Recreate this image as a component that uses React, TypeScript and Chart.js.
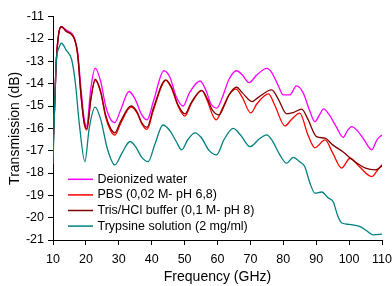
import React, { useEffect, useRef } from "react";
import { Chart, registerables } from "chart.js";

Chart.register(...registerables);

// ---- data ----
const seriesLabels = [
  "Deionized water",
  "PBS (0,02 M- pH 6,8)",
  "Tris/HCl buffer (0,1 M- pH 8)",
  "Trypsine solution (2 mg/ml)",
];
const seriesColors = ["#ff00ff", "#ff0000", "#800000", "#008080"];

const xTickValues = [10, 20, 30, 40, 50, 60, 70, 80, 90, 100, 110];
const yTickValues = [-11, -12, -13, -14, -15, -16, -17, -18, -19, -20, -21];

const waterFreq = [10, 10.5, 11, 11.7, 12.5, 14, 16.5, 17.5, 18.5, 19.5, 20.2, 21.5, 22.8, 24.5, 26, 27.5, 28.8, 30.5, 33.1, 35, 37, 38.6, 40.5, 43.7, 45.5, 47.5, 49.5, 51.5, 54.7, 56.5, 58, 59.8, 61.5, 63.5, 65.8, 67.5, 69.6, 72, 75, 76.5, 78.5, 80, 82, 84, 86, 88, 89.6, 91, 92.2, 94, 96, 98.2, 99.5, 100.8, 102.5, 104.5, 106.9, 108.5, 110];
const waterDb = [-16.6, -15, -13, -11.8, -11.45, -11.6, -11.95, -12.6, -14.2, -15.6, -15.9, -14.2, -13.3, -13.9, -15.0, -15.6, -15.74, -15.2, -14.35, -14.7, -15.4, -15.62, -14.8, -13.42, -13.7, -14.6, -15.0, -14.4, -13.88, -14.3, -14.9, -15.09, -14.6, -13.8, -13.42, -13.6, -13.95, -13.6, -13.31, -13.5, -14.1, -14.5, -14.5, -14.1, -14.4, -15.2, -15.7, -15.4, -15.13, -15.4, -15.9, -16.4, -16.1, -15.92, -16.1, -16.5, -16.96, -16.5, -16.3];

const pbsFreq = [10, 10.5, 11, 11.7, 12.5, 14, 16.5, 17.5, 18.5, 19.5, 20.3, 21.5, 22.8, 24.5, 26, 27.5, 28.8, 30.5, 33.7, 35.5, 37, 38.6, 40.5, 44.3, 46, 48, 50.1, 52, 55.2, 57, 58.5, 59.6, 61.5, 63.5, 65.6, 67.5, 70.1, 72, 75.5, 77.5, 80.5, 82.5, 85, 87.5, 89.6, 92.7, 95, 97.7, 100.3, 103, 106.9, 108.5, 110];
const pbsDb = [-16.9, -15, -13, -11.8, -11.45, -11.65, -12.0, -12.7, -14.5, -15.8, -16.07, -14.7, -13.85, -14.4, -15.5, -16.1, -16.3, -15.8, -15.05, -15.3, -15.8, -16.05, -15.2, -13.85, -14.2, -15.0, -15.45, -14.9, -14.31, -14.8, -15.4, -15.62, -15.1, -14.5, -14.24, -14.6, -15.31, -14.9, -14.46, -15.0, -15.89, -15.6, -15.32, -16.3, -16.87, -16.52, -17.1, -17.78, -17.34, -17.7, -18.16, -17.9, -17.63];

const trisFreq = [10, 10.5, 11, 11.7, 12.5, 14, 16.5, 17.5, 18.5, 19.5, 20.3, 21.5, 22.8, 24.5, 26, 27.5, 28.8, 30.5, 33.7, 35.5, 37, 38.6, 40.5, 44.3, 46, 48, 50.1, 52, 55.2, 57, 58.5, 60.5, 62, 63.5, 65.8, 67.5, 70.5, 72.5, 76.5, 78.5, 81, 83, 85.6, 87.5, 90.1, 92.7, 95, 98, 101, 105, 108, 110];
const trisDb = [-17.2, -15, -13, -11.8, -11.45, -11.65, -12.0, -12.7, -14.5, -15.75, -16.0, -14.7, -13.8, -14.35, -15.4, -16.0, -16.2, -15.7, -15.0, -15.25, -15.75, -15.95, -15.1, -13.83, -14.15, -14.95, -15.35, -14.85, -14.3, -14.7, -15.2, -15.4, -15.0, -14.5, -14.16, -14.4, -14.8, -14.6, -14.28, -14.7, -15.35, -15.3, -15.14, -15.6, -16.37, -16.44, -16.74, -17.04, -17.41, -17.78, -17.86, -17.68];

const trypFreq = [10, 10.5, 11, 11.8, 12.6, 14, 15.7, 16.8, 18, 19.7, 21, 22.8, 24.5, 26.5, 28.8, 31, 33.4, 35, 37, 38.9, 41, 43.4, 45.5, 47.5, 49.1, 51, 53.2, 55, 57.5, 59.7, 62, 64.8, 67, 69.9, 72.5, 75, 76.5, 79, 81, 83, 85, 86.5, 88.1, 89.6, 91.7, 93.5, 95.2, 96.5, 97.8, 100, 103.3, 105, 107.4, 110];
const trypDb = [-17.6, -15, -13, -12.4, -12.19, -12.5, -12.94, -13.97, -15.8, -17.49, -16.0, -15.05, -15.6, -16.9, -17.64, -17.1, -16.59, -16.8, -17.3, -17.49, -16.7, -15.85, -16.1, -16.6, -16.96, -16.5, -16.2, -16.4, -17.0, -17.19, -16.5, -16.0, -16.3, -16.82, -16.5, -16.29, -16.52, -17.2, -17.56, -17.3, -17.5, -17.71, -18.45, -18.9, -18.85, -19.1, -19.3, -19.9, -20.24, -20.3, -20.4, -20.55, -20.77, -20.74];

const seriesFreqs = [waterFreq, pbsFreq, trisFreq, trypFreq];
const seriesValues = [waterDb, pbsDb, trisDb, trypDb];

const FONT = '"Liberation Sans", Arial, sans-serif';

const insideLegend = {
  id: "insideLegend",
  afterDatasetsDraw(chart: any) {
    const { ctx, chartArea } = chart;
    ctx.save();
    ctx.font = `12.5px ${FONT}`;
    ctx.textBaseline = "middle";
    ctx.textAlign = "left";
    chart.data.datasets.forEach((ds: any, i: number) => {
      const y = chartArea.top + 162.6 + i * 15.6;
      const x0 = chartArea.left + 15;
      ctx.strokeStyle = ds.borderColor;
      ctx.lineWidth = 1.5;
      ctx.beginPath();
      ctx.moveTo(x0, y);
      ctx.lineTo(x0 + 25, y);
      ctx.stroke();
      ctx.fillStyle = "#000";
      ctx.fillText(ds.label, x0 + 29.5, y);
    });
    ctx.restore();
  },
};

export default function App() {
  const ref = useRef<HTMLCanvasElement | null>(null);

  useEffect(() => {
    document.body.style.margin = "0";
    const canvas = ref.current;
    if (!canvas) return;
    const datasets = seriesLabels.map((label, i) => ({
      label,
      data: seriesFreqs[i].map((f, j) => ({ x: f, y: seriesValues[i][j] })),
      borderColor: seriesColors[i],
      backgroundColor: seriesColors[i],
      borderWidth: 1.3,
      pointRadius: 0,
      fill: false,
      cubicInterpolationMode: "monotone" as const,
      order: 4 - i,
    }));

    const chart = new Chart(canvas, {
      type: "line",
      data: { datasets },
      plugins: [insideLegend],
      options: {
        responsive: false,
        animation: false,
        devicePixelRatio: 1,
        layout: { padding: { left: 0, right: 10, top: 16.7, bottom: 0 } },
        plugins: { legend: { display: false }, tooltip: { enabled: false } },
        scales: {
          x: {
            type: "linear",
            min: 10,
            max: 110,
            afterFit: (s: any) => {
              s.height = 46;
              s.paddingLeft = 0;
              s.paddingRight = 0;
            },
            afterBuildTicks: (s: any) => {
              s.ticks = xTickValues.map((v) => ({ value: v }));
            },
            ticks: {
              color: "#000",
              padding: 7,
              maxRotation: 0,
              autoSkip: false,
              font: { family: FONT, size: 12.5 },
            },
            grid: {
              display: true,
              drawOnChartArea: false,
              drawTicks: true,
              tickLength: 5,
              color: "#000",
            },
            border: { display: true, color: "#000", width: 1 },
            title: {
              display: true,
              text: "Frequency (GHz)",
              color: "#000",
              font: { family: FONT, size: 14 },
              padding: { top: 0, bottom: 0 },
            },
          },
          y: {
            type: "linear",
            min: -21,
            max: -11,
            afterFit: (s: any) => {
              s.width = 53;
              s.paddingTop = 0;
              s.paddingBottom = 0;
            },
            afterBuildTicks: (s: any) => {
              s.ticks = yTickValues.map((v) => ({ value: v }));
            },
            ticks: {
              color: "#000",
              padding: 4,
              autoSkip: false,
              font: { family: FONT, size: 12.5 },
            },
            grid: {
              display: true,
              drawOnChartArea: false,
              drawTicks: true,
              tickLength: 5,
              color: "#000",
            },
            border: { display: true, color: "#000", width: 1 },
            title: {
              display: true,
              text: "Transmission (dB)",
              color: "#000",
              font: { family: FONT, size: 14 },
              padding: { top: 7, bottom: 0 },
            },
          },
        },
      },
    });
    return () => chart.destroy();
  }, []);

  return (
    <div style={{ width: 392, height: 286 }}>
      <canvas ref={ref} width={392} height={286} style={{ display: "block" }} />
    </div>
  );
}
